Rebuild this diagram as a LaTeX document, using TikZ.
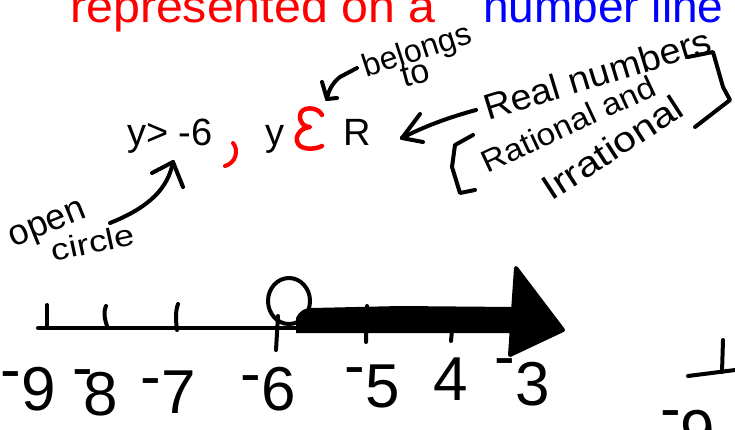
\documentclass[tikz,border=0pt]{standalone}
\usepackage{fontspec}
\setmainfont{Liberation Sans}
\definecolor{tred}{RGB}{255,0,0}
\definecolor{tblue}{RGB}{0,0,255}
\newcommand\rdash[1]{\raisebox{#1pt}{-}}
\begin{document}
\begin{tikzpicture}[x=1pt,y=-1pt,
  ink/.style={line width=4pt,line cap=round,line join=round},
  fs/.style={font=\fontsize{#1}{#1}\selectfont},
  lbl/.style={inner sep=0pt},
  numlbl/.style={lbl,fs=62,anchor=base east}]
\useasboundingbox (0,0) rectangle (735,429);
\clip (0,0) rectangle (735,429);

% title (cropped at top)
\node[lbl,fs=46,anchor=base west,text=tred,xscale=1.05] (t1) at (70,22) {represented on a};
\node[lbl,fs=46,anchor=base west,text=tblue] (t2) at (483,22) {number line};

% typed statement
\node[lbl,fs=38,anchor=base west] (ineq) at (127,145) {y> -6};
\node[lbl,fs=38,anchor=base west] (y2) at (265,145) {y};
\node[lbl,fs=38,anchor=base west] (R) at (343,145) {R};

% red comma and epsilon
\coordinate (cm1) at (233,143);
\coordinate (cm2) at (225,166);
\draw[ink,tred] (cm1) .. controls (239,150) and (236,163) .. (cm2);
\coordinate (ep1) at (322,115);
\coordinate (ep2) at (322,146);
\draw[ink,tred,line width=4.5pt] (ep1) .. controls (318,106) and (300,106) .. (300,116)
  .. controls (300,124) and (305,127) .. (310,127)
  .. controls (298,128) and (293,140) .. (300,146)
  .. controls (306,150) and (316,149) .. (ep2);

% handwritten annotations
\node[lbl,fs=32,anchor=base,rotate=18] (bel) at (420,60) {belongs};
\node[lbl,fs=34,anchor=base,rotate=15] (to) at (418,84) {to};
\node[lbl,fs=36,anchor=base,rotate=22] (open) at (51,232) {open};
\node[lbl,fs=30,anchor=base,rotate=12,xscale=1.2] (circ) at (95,253) {circle};
\node[lbl,fs=36,anchor=base,rotate=17,xscale=1.05] (real) at (601,86) {Real numbers};
\node[lbl,fs=31,anchor=base,rotate=25,xscale=1.08] (rat) at (573,134) {Rational and};
\node[lbl,fs=35,anchor=base,rotate=33,xscale=1.18] (irr) at (619,158) {Irrational};

% brackets
\draw[ink] (473,135) -- (455,145) -- (452,167) -- (460,193) -- (475,190);
\draw[ink] (688,57) -- (713,52) -- (723,87) -- (730,100) -- (695,127);

% arrow: belongs -> epsilon
\coordinate (bs) at (357,68);
\coordinate (btip) at (327,99);
\draw[ink] (bs) -- (340,77) .. controls (332,83) and (328,92) .. (btip);
\draw[ink] (btip) -- (322,82);
\draw[ink] (btip) -- (337,98);

% arrow: Real numbers -> R
\coordinate (rs) at (476,110);
\coordinate (rtip) at (402,138);
\draw[ink] (rs) .. controls (450,117) and (425,126) .. (rtip);
\draw[ink] (rtip) -- (420,114);
\draw[ink] (rtip) -- (423,142);

% arrow: open circle -> statement
\coordinate (os) at (110,223);
\coordinate (otip) at (173,162);
\draw[ink] (os) .. controls (150,207) and (168,188) .. (otip);
\draw[ink] (otip) -- (152,173);
\draw[ink] (otip) -- (183,187);

% number line
\draw[ink] (38,328) -- (300,328);
\draw[ink] (47,305) -- (47,328);
\draw[ink] (106,306) .. controls (103,313) and (105,320) .. (107,326);
\draw[ink] (178,304) .. controls (175,312) and (176,322) .. (177,330);
\draw[ink] (278,316) -- (276,350);
\draw[ink] (289,301) ellipse [x radius=21, y radius=23];
\fill[line join=round] (296,318) .. controls (300,310) and (305,308) .. (312,308)
  -- (400,306) -- (514,307) -- (514,333) -- (296,333) -- cycle;
\draw[ink,fill=black] (516,268) -- (563,330) -- (510,355) -- cycle;
\draw[ink] (367,306) -- (366,342);
\draw[ink] (452,330) -- (451,341);

\node[numlbl] (n9) at (56,410) {\rdash{20}9};
\node[numlbl] (n8) at (118,415) {\rdash{27}\kern-10pt8};
\node[numlbl] (n7) at (196,413) {\rdash{16}7};
\node[numlbl] (n6) at (296,410) {\rdash{16}6};
\node[numlbl] (n5) at (400,407) {\rdash{21}5};
\node[numlbl] (n4) at (468,400) {4};
\node[numlbl] (n3) at (550,405) {\rdash{28}3};

% second number line fragment (bottom right)
\draw[ink] (723,340) -- (722,372);
\draw[ink] (688,376) -- (735,370);
\node[numlbl,anchor=base west] (n9b) at (660,453) {\rdash{24}9};
\end{tikzpicture}
\end{document}
